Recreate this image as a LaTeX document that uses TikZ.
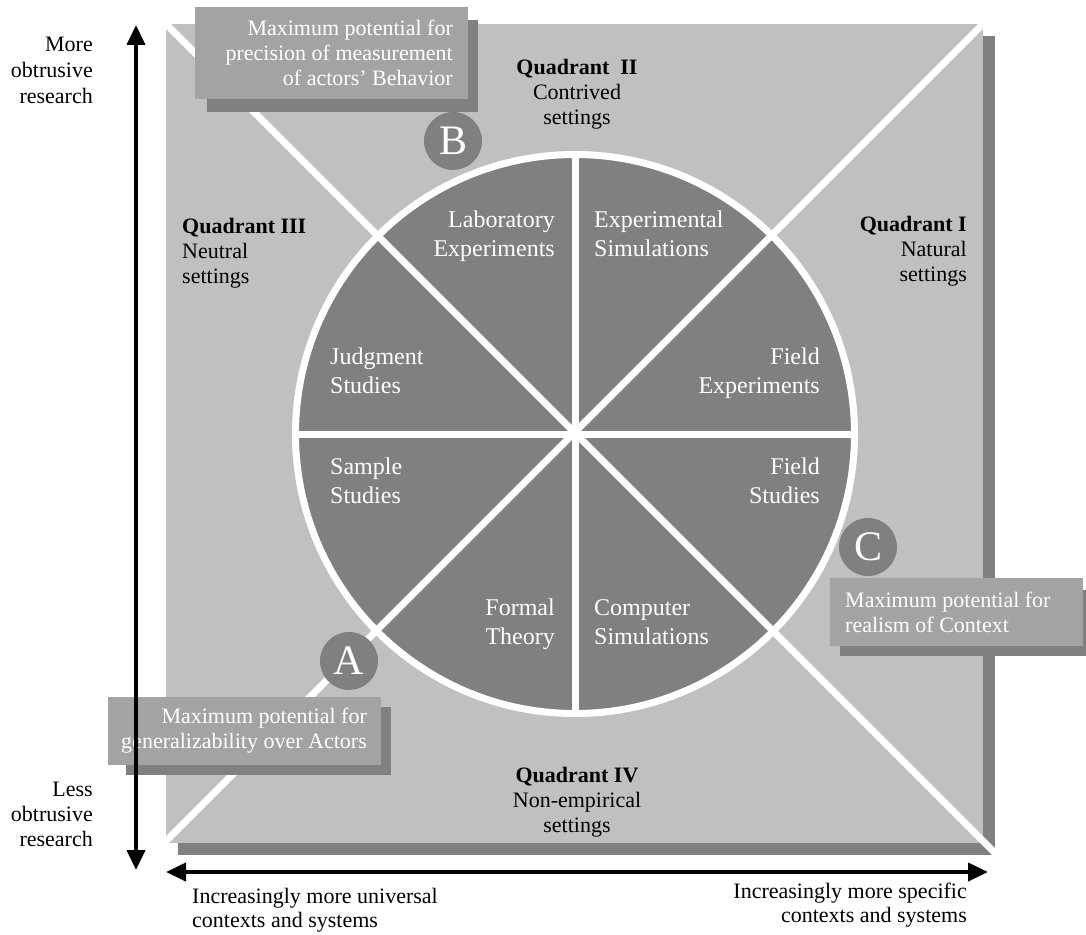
\documentclass[tikz,border=0pt]{standalone}
\usepackage{fontspec}
\setmainfont{Liberation Serif}
\usetikzlibrary{arrows.meta}
\definecolor{bglight}{HTML}{C0C0C0}
\definecolor{dgray}{HTML}{808080}
\definecolor{boxgray}{HTML}{A3A3A3}
\begin{document}
\begin{tikzpicture}[x=1pt,y=-1pt,
  txt/.style={inner sep=0pt, font=\fontsize{22}{25}\selectfont},
  sectxt/.style={inner sep=0pt, text=white, font=\fontsize{24}{29}\selectfont},
  boxtxt/.style={inner sep=0pt, text=white, font=\fontsize{22}{25}\selectfont},
  letter/.style={circle, fill=dgray, minimum size=58pt, inner sep=0pt, text=white, font=\fontsize{42}{42}\selectfont},
  whiteline/.style={draw=white, line width=7pt},
  axis/.style={line width=4pt, {Triangle[length=20pt,width=18pt]}-{Triangle[length=20pt,width=18pt]}}]
\useasboundingbox (0,0) rectangle (1086,934);
% square with shadow
\fill[dgray] (178,36) rectangle (995,855);
\fill[bglight] (166,24) rectangle (983,843);
% wheel
\fill[dgray] (575,434) circle (280pt);
\draw[white, line width=7pt] (575,434) circle (279.5pt);
\draw[whiteline] (575,151) -- (575,717);
\draw[whiteline] (292,434) -- (858,434);
\begin{scope}
  \clip (166,24) rectangle (983,843) (178,36) rectangle (995,855);
  \draw[whiteline] (150,8) -- (1011,869);
  \draw[whiteline] (999,8) -- (150,857);
\end{scope}
% call-out boxes
\fill[dgray] (207,20) rectangle (478,112);
\fill[boxgray] (195,7) rectangle (468,99);
\fill[dgray] (840,590) rectangle (1086,656);
\fill[boxgray] (830,578) rectangle (1083,646);
\fill[dgray] (126,707) rectangle (391,775);
\fill[boxgray] (108,697) rectangle (381,765);
\node[letter] (A) at (349,661) {A};
\node[letter] (B) at (453,141) {B};
\node[letter] (C) at (868,547) {C};
\node[boxtxt, anchor=north east, align=right] (tB) at (453,20) {Maximum potential for\\precision of measurement\\of actors’ Behavior};
\node[boxtxt, anchor=north west, align=left] (tC) at (845,592) {Maximum potential for\\realism of Context};
\node[boxtxt, anchor=north east, align=right] (tA) at (367,708) {Maximum potential for\\generalizability over Actors};
% quadrant labels
\node[txt, anchor=north, align=center] (q2) at (577,59) {\textbf{Quadrant\ \ II}\\Contrived\\settings};
\node[txt, anchor=north west, align=left] (q3) at (182,218) {\textbf{Quadrant III}\\Neutral\\settings};
\node[txt, anchor=north east, align=right] (q1) at (967,216) {\textbf{Quadrant I}\\Natural\\settings};
\node[txt, anchor=north, align=center] (q4) at (577,767) {\textbf{Quadrant IV}\\Non-empirical\\settings};
% sector labels
\node[sectxt, anchor=north east, align=right] (lab) at (555,211) {Laboratory\\Experiments};
\node[sectxt, anchor=north west, align=left] (esim) at (594,211) {Experimental\\Simulations};
\node[sectxt, anchor=north west, align=left] (judg) at (330,348) {Judgment\\Studies};
\node[sectxt, anchor=north east, align=right] (fexp) at (820,348) {Field\\Experiments};
\node[sectxt, anchor=north west, align=left] (samp) at (330,458) {Sample\\Studies};
\node[sectxt, anchor=north east, align=right] (fstu) at (820,458) {Field\\Studies};
\node[sectxt, anchor=north east, align=right] (form) at (555,599) {Formal\\Theory};
\node[sectxt, anchor=north west, align=left] (csim) at (594,599) {Computer\\Simulations};
% axes
\coordinate (vtop) at (136,25);
\coordinate (vbot) at (136,870);
\coordinate (hl) at (166,872);
\coordinate (hr) at (988,872);
\draw[axis] (vbot) -- (vtop);
\draw[axis] (hl) -- (hr);
\node[txt, anchor=north east, align=right, font=\fontsize{22}{26}\selectfont] (more) at (93,37) {More\\obtrusive\\research};
\node[txt, anchor=north east, align=right] (less) at (93,782) {Less\\obtrusive\\research};
\node[txt, anchor=north west, align=left, font=\fontsize{22}{24}\selectfont] (univ) at (192,888) {Increasingly more universal\\contexts and systems};
\node[txt, anchor=north east, align=right, font=\fontsize{22}{24}\selectfont] (spec) at (967,883) {Increasingly more specific\\contexts and systems};
\end{tikzpicture}
\end{document}
